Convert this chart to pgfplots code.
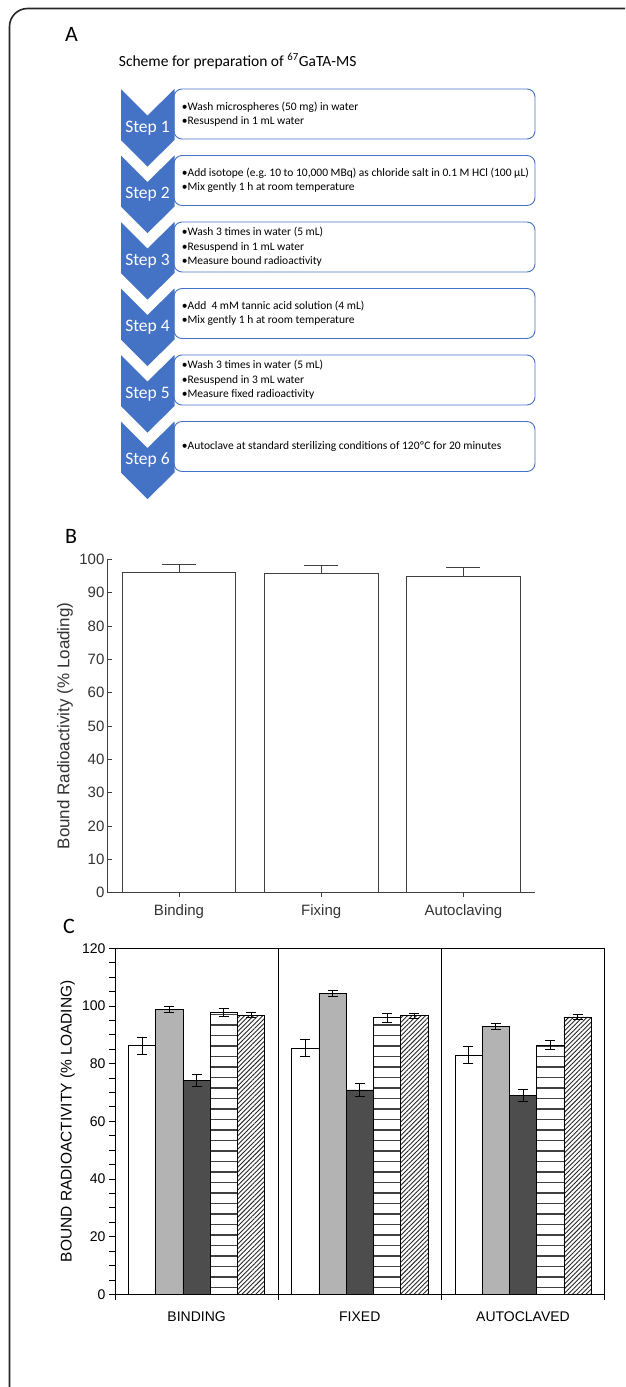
\documentclass[border=0pt]{standalone}
\usepackage{fontspec}
\setmainfont{Carlito}
\newfontfamily\arial{Liberation Sans}
\usepackage{pgfplots}
\pgfplotsset{compat=1.18}
\usetikzlibrary{patterns,patterns.meta}
\definecolor{chev}{HTML}{4472C4}
\definecolor{boxline}{HTML}{4472C4}
\frenchspacing
\pgfdeclarepatternformonly{hlinesC}{\pgfpoint{-1pt}{-1pt}}{\pgfpoint{201pt}{11.5pt}}{\pgfpoint{200pt}{10.5pt}}{%
  \pgfsetlinewidth{1.1pt}%
  \pgfpathmoveto{\pgfpoint{-1pt}{5pt}}%
  \pgfpathlineto{\pgfpoint{201pt}{5pt}}%
  \pgfusepath{stroke}%
}
\newcommand\stepbox[2]{%
  \pgfmathsetmacro\yt{89+66.5*(#1-1)}%
  \draw[boxline, line width=0.9pt, fill=white, rounded corners=8pt] (174,\yt) rectangle (535,\yt+50);
  \fill[chev] (121,\yt) -- (147.5,\yt+26.5) -- (174.5,\yt) -- (174.5,\yt+51) -- (147.5,\yt+77.5) -- (121,\yt+51) -- cycle;
  \node[text=white, inner sep=0pt, font=\fontsize{17.5}{20}\selectfont, anchor=base] at (147.5,\yt+43) {Step #1};
  \node[anchor=west, inner sep=0pt, align=left, font=\fontsize{11.5}{14.5}\selectfont] at (181.7,\yt+25) {#2};
}
\pgfplotsset{
  ebC/.style={error bars/.cd, y dir=both, y explicit,
    error bar style={black, line width=1pt},
    error mark options={black, line width=1pt, mark size=5pt, rotate=90}},
}
\begin{document}
\begin{tikzpicture}
\useasboundingbox (0pt,0pt) rectangle (625pt,-1387pt);
\clip (0pt,0pt) rectangle (625pt,-1387pt);
\draw[black!85, line width=1.6pt, rounded corners=18pt] (9.5pt,-8.5pt) rectangle (680pt,-1450pt);

\begin{scope}[x=1pt,y=-1pt]
\node[anchor=base west, inner sep=0pt, font=\fontsize{22}{26}\selectfont] at (65,41.7) {A};
\node[anchor=base west, inner sep=0pt, font=\fontsize{15.5}{18}\selectfont] at (118.7,66) {Scheme for preparation of \textsuperscript{67}GaTA-MS};
\stepbox{1}{•Wash microspheres (50 mg) in water\\•Resuspend in 1 mL water}
\stepbox{2}{•Add isotope (e.g.\ 10 to 10,000 MBq) as chloride salt in 0.1 M HCl (100 µL)\\•Mix gently 1 h at room temperature}
\stepbox{3}{•Wash 3 times in water (5 mL)\\•Resuspend in 1 mL water\\•Measure bound radioactivity}
\stepbox{4}{•Add\ \ 4 mM tannic acid solution (4 mL)\\•Mix gently 1 h at room temperature}
\stepbox{5}{•Wash 3 times in water (5 mL)\\•Resuspend in 3 mL water\\•Measure fixed radioactivity}
\stepbox{6}{•Autoclave at standard sterilizing conditions of 120ºC for 20 minutes}
\node[anchor=base west, inner sep=0pt, font=\fontsize{22}{26}\selectfont] at (65,543.3) {B};
\node[anchor=base west, inner sep=0pt, font=\fontsize{22}{26}\selectfont] at (63,933) {C};
\end{scope}

\begin{axis}[
  at={(107.9pt,-892.7pt)}, anchor=south west,
  scale only axis, width=426.7pt, height=333.4pt,
  xmin=-0.5, xmax=2.5, ymin=0, ymax=100,
  axis lines*=left, axis line style={black!75, line width=0.9pt},
  ytick={0,10,...,100}, xtick={0,1,2}, xticklabels={Binding,Fixing,Autoclaving},
  tick align=inside, major tick length=4pt, tick style={black!75, line width=0.8pt},
  tick label style={font=\arial\fontsize{15}{18}\selectfont, text=black!80},
  /pgf/number format/assume math mode=true,
  xticklabel style={yshift=-4pt},
  ylabel={Bound Radioactivity (\% Loading)},
  ylabel style={font=\arial\fontsize{17}{20}\selectfont, text=black!80, at={(axis description cs:-0.1005,0.5)}, anchor=center},
  ybar, bar width=0.8, clip=false,
]
\addplot[draw=black!75, fill=white, line width=0.9pt,
  error bars/.cd, y dir=plus, y explicit,
  error bar style={black!75, line width=0.9pt},
  error mark options={black!75, line width=0.9pt, mark size=17pt, rotate=90}]
  coordinates {(0,96.1) +- (0,2.4) (1,95.9) +- (0,2.2) (2,94.8) +- (0,2.8)};
\end{axis}

\begin{axis}[
  at={(115pt,-1294.3pt)}, anchor=south west,
  scale only axis, width=489.6pt, height=346pt,
  xmin=-0.5, xmax=2.5, ymin=0, ymax=120,
  axis line style={black, line width=0.8pt},
  tick pos=left, tick align=outside,
  ytick={0,20,...,120}, minor y tick num=3,
  major tick length=6pt, minor tick length=6pt,
  xtick={-0.5,0.5,1.5,2.5}, xticklabels={},
  xmajorgrids, major x grid style={black, line width=0.8pt},
  extra x ticks={0,1,2}, extra x tick labels={BINDING,FIXED,AUTOCLAVED},
  extra x tick style={major tick length=0pt, grid=none, tick label style={yshift=-14pt}},
  tick style={black, line width=0.8pt},
  tick label style={font=\arial\fontsize{14}{17}\selectfont},
  /pgf/number format/assume math mode=true,
  ylabel={BOUND RADIOACTIVITY (\% LOADING)},
  ylabel style={font=\arial\fontsize{15.5}{18}\selectfont, at={(axis description cs:-0.097,0.5)}, anchor=center},
  ybar, bar width=0.167,
]
\addplot[fill=white, draw=black, line width=0.7pt, bar shift=-0.334, ebC]
  coordinates {(0,86.2) +- (0,2.9) (1,85.4) +- (0,3.0) (2,83.0) +- (0,2.9)};
\addplot[fill={rgb,255:red,179;green,179;blue,179}, draw=black, line width=0.7pt, bar shift=-0.167, ebC]
  coordinates {(0,98.8) +- (0,1.1) (1,104.4) +- (0,1.1) (2,92.8) +- (0,1.1)};
\addplot[fill={rgb,255:red,77;green,77;blue,77}, draw=black, line width=0.7pt, bar shift=0, ebC]
  coordinates {(0,74.1) +- (0,2.1) (1,70.9) +- (0,2.2) (2,69.0) +- (0,2.1)};
\addplot[pattern=hlinesC, pattern color=black!75, draw=black, line width=0.7pt, bar shift=0.167, ebC]
  coordinates {(0,97.7) +- (0,1.5) (1,95.9) +- (0,1.5) (2,86.5) +- (0,1.5)};
\addplot[pattern={Lines[angle=45, distance=3.2pt, line width=0.9pt]}, pattern color=black!85, draw=black, line width=0.7pt, bar shift=0.334, ebC]
  coordinates {(0,96.8) +- (0,0.8) (1,96.6) +- (0,0.8) (2,96.2) +- (0,0.8)};
\end{axis}
\end{tikzpicture}
\end{document}
